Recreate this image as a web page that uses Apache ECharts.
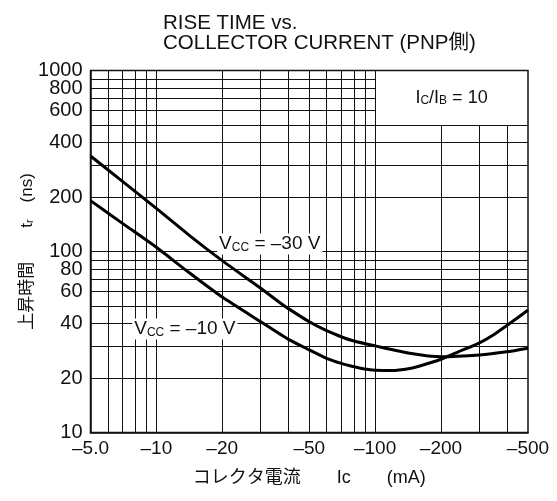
<!DOCTYPE html>
<html>
<head>
<meta charset="utf-8">
<script src="https://cdn.jsdelivr.net/npm/echarts@6/dist/echarts.min.js"></script>
<style>
html,body{margin:0;padding:0;background:#fff;}
#c{width:557px;height:501px;}
</style>
</head>
<body>
<div id="c"></div>
<script>
// ---- data ----
const currentUpper = [5, 7, 10, 14, 20, 30, 37, 40, 50, 60, 70, 80, 100, 144, 200, 300, 400, 500]; // Vcc = -30 V (|Ic| mA)
const riseUpper    = [337, 244, 173, 124, 89, 62.6, 51.8, 48.5, 40.9, 36.5, 33.8, 32.0, 30.1, 27.4, 26.2, 26.8, 27.9, 29.2];
const currentLower = [5, 7, 10, 14, 20, 30, 40, 50, 60, 70, 80, 90, 100, 120, 144, 160, 200, 240, 300, 350, 400, 450, 500]; // Vcc = -10 V
const riseLower    = [191, 143, 105.5, 77, 56, 40.9, 32.8, 28.6, 25.7, 24.1, 23.1, 22.4, 22.1, 22.0, 22.6, 23.3, 25.4, 27.9, 31.3, 34.8, 39.0, 43.2, 47.5];

const xTickLabels = [5, 10, 20, 50, 100, 200, 500];
const yTickLabels = [10, 20, 40, 60, 80, 100, 200, 400, 600, 800];
const yTopLabel = [1000];

const xGridFull  = [6, 7, 8, 9, 10, 20, 30, 40, 50, 60, 70, 80, 90, 100];
const xGridShort = [200, 300, 400];
const yGridFull  = [20, 30, 40, 50, 60, 70, 80, 90, 100, 200, 300, 400, 500];
const yGridShort = [600, 700, 800, 900];
const xRange = [5, 500];
const yRange = [10, 1000];
const boxCorner = [100, 500]; // legend box lower-left corner (data units)

// ---- build grid segments ----
const gridSegs = [];
xGridFull.forEach(v => gridSegs.push({coords: [[v, yRange[0]], [v, yRange[1]]]}));
xGridShort.forEach(v => gridSegs.push({coords: [[v, yRange[0]], [v, boxCorner[1]]]}));
yGridFull.forEach(v => gridSegs.push({coords: [[xRange[0], v], [xRange[1], v]]}));
yGridShort.forEach(v => gridSegs.push({coords: [[xRange[0], v], [boxCorner[0], v]]}));

const FONT = '"Liberation Sans", Arial, "Noto Sans CJK JP", sans-serif';
const subRich = (size) => ({
  v: {fontFamily: FONT, fontSize: size, color: '#111'},
  s: {fontFamily: FONT, fontSize: 12, color: '#111', verticalAlign: 'bottom'}
});
const yLabelStyle = {fontFamily: FONT, fontSize: 20, color: '#111', margin: 8, showMinLabel: true, showMaxLabel: true, hideOverlap: false,
  formatter: v => String(Math.round(v))};

const chart = echarts.init(document.getElementById('c'));
chart.setOption({
  animation: false,
  backgroundColor: '#fff',
  title: {
    text: 'RISE TIME vs.\nCOLLECTOR CURRENT (PNP側)',
    left: 158, top: 8,
    textStyle: {fontFamily: FONT, fontSize: 20.5, fontWeight: 'normal', color: '#111', lineHeight: 20}
  },
  grid: {left: 90.5, right: 29, top: 70.5, bottom: 68.5, show: true, borderColor: '#111', borderWidth: 1.5, backgroundColor: 'transparent'},
  xAxis: {
    type: 'log', logBase: 10, min: xRange[0], max: xRange[1],
    axisLine: {show: true, lineStyle: {color: '#111', width: 1.5}},
    axisTick: {show: false},
    splitLine: {show: false},
    axisLabel: {
      customValues: xTickLabels, showMinLabel: true, showMaxLabel: true, hideOverlap: false,
      formatter: v => '–' + (v === 5 ? '5.0' : String(Math.round(v))),
      fontFamily: FONT, fontSize: 19, color: '#111', margin: 7
    },
    name: 'コレクタ電流　　Ic　　(mA)',
    nameLocation: 'middle', nameGap: 37,
    nameTextStyle: {fontFamily: FONT, fontSize: 18, color: '#111'}
  },
  yAxis: [
    {
      type: 'log', logBase: 10, min: yRange[0], max: yRange[1], position: 'left',
      axisLine: {show: true, lineStyle: {color: '#111', width: 1.5}},
      axisTick: {show: false},
      splitLine: {show: false},
      axisLabel: Object.assign({customValues: yTickLabels}, yLabelStyle),
      name: '{a|上昇時間　　t}{s|r}{a|　(ns)}',
      nameLocation: 'middle', nameGap: 55, nameRotate: 90,
      nameTextStyle: {
        fontFamily: FONT, color: '#111',
        rich: {
          a: {fontFamily: FONT, fontSize: 17, color: '#111'},
          s: {fontFamily: FONT, fontSize: 11, color: '#111', verticalAlign: 'bottom'}
        }
      }
    },
    {
      type: 'log', logBase: 10, min: yRange[0], max: yRange[1], position: 'left', offset: 0,
      axisLine: {show: false},
      axisTick: {show: false},
      splitLine: {show: false},
      axisLabel: Object.assign({customValues: yTopLabel}, yLabelStyle)
    }
  ],
  series: [
    {
      type: 'lines', coordinateSystem: 'cartesian2d', polyline: false, silent: true, z: 1,
      lineStyle: {color: '#111', width: 1, opacity: 1},
      data: gridSegs
    },
    {
      type: 'line', name: 'Vcc=-30V', z: 3, smooth: 0.2, showSymbol: false, symbol: 'none',
      lineStyle: {color: '#000', width: 3},
      data: currentUpper.map((x, i) => [x, riseUpper[i]]),
      markPoint: {
        symbol: 'rect', symbolSize: 0, silent: true,
        data: [
          {coord: [33, 110], label: {show: true, formatter: '{v|V}{s|CC}{v| = –30 V}', backgroundColor: '#fff', padding: [1, 2], rich: subRich(19)}},
          {coord: [223.6, 707], label: {show: true, formatter: '{v|I}{s|C}{v|/I}{s|B}{v| = 10}', padding: [1, 2], rich: subRich(18)}}
        ]
      }
    },
    {
      type: 'line', name: 'Vcc=-10V', z: 3, smooth: 0.2, showSymbol: false, symbol: 'none',
      lineStyle: {color: '#000', width: 3},
      data: currentLower.map((x, i) => [x, riseLower[i]]),
      markPoint: {
        symbol: 'rect', symbolSize: 0, silent: true,
        data: [
          {coord: [13.5, 37.3], label: {show: true, formatter: '{v|V}{s|CC}{v| = –10 V}', backgroundColor: '#fff', padding: [1, 2], rich: subRich(19)}}
        ]
      }
    }
  ]
});
</script>
</body>
</html>
